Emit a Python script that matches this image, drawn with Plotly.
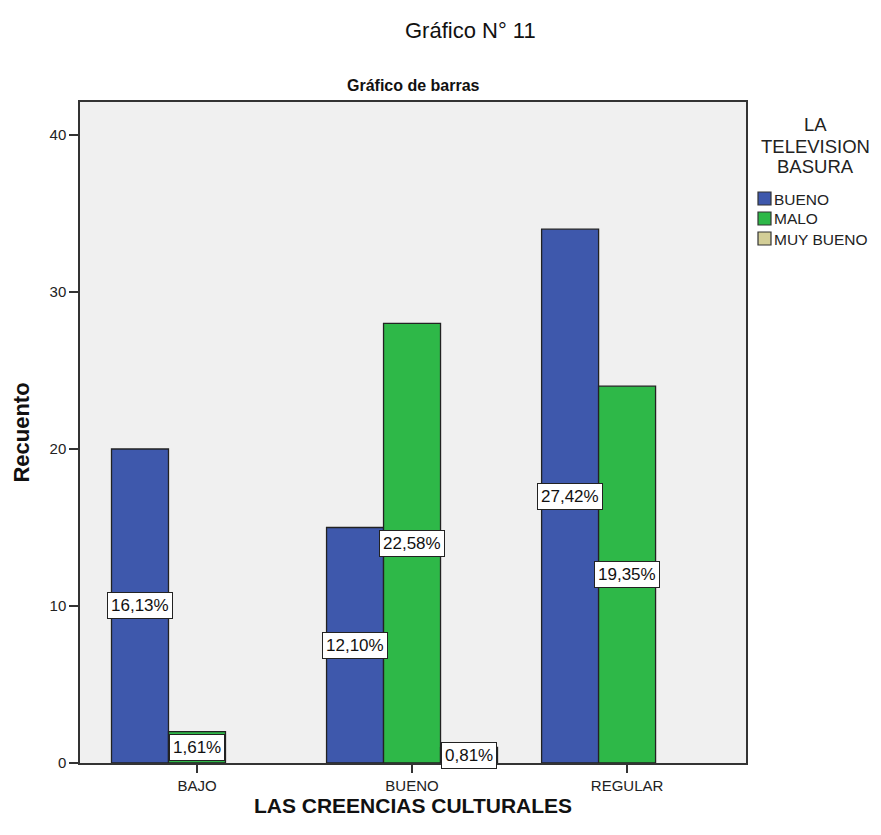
import plotly.graph_objects as go

categories = ["BAJO", "BUENO", "REGULAR"]
series_names = ["BUENO", "MALO", "MUY BUENO"]
bueno = [20, 15, 34]
malo = [2, 28, 24]
muy_bueno = [0, 1, 0]
total = 124
colors = ["#3E58AC", "#2EB848", "#D3CE97"]
legend_title_lines = ["LA", "TELEVISION", "BASURA"]

series = [bueno, malo, muy_bueno]
FONT = "Liberation Sans, Arial, sans-serif"

# the browser page adds an 8px body margin
OFF = 8
W, H = 881 - OFF, 835 - 2 * OFF
PL, PR, PT, PB = 80 - OFF, 746 - OFF, 102 - OFF, 763 - OFF


def px(xr):
    return (xr - OFF - PL) / (PR - PL)


def py(yr):
    return (PB - (yr - OFF)) / (PB - PT)


fig = go.Figure()
for name, vals, col in zip(series_names, series, colors):
    fig.add_trace(go.Bar(
        x=categories, y=vals, name=name, showlegend=False,
        marker=dict(color=col,
                    line=dict(color="#222222",
                              width=[1.3 if v > 0 else 0 for v in vals])),
    ))

bargap = 0.205
w = (1 - bargap) / 3
for i, vals in enumerate(series):
    for j, v in enumerate(vals):
        if v <= 0:
            continue
        pct = f"{100 * v / total:.2f}%".replace(".", ",")
        fig.add_annotation(
            x=j + (i - 1) * w, y=v / 2, xref="x", yref="y",
            text=pct, showarrow=False,
            font=dict(family=FONT, size=17, color="#111111"),
            bgcolor="white", bordercolor="#222222", borderwidth=1, borderpad=3,
        )

# titles
fig.add_annotation(text="Gráfico N° 11", x=px(470), y=py(30), xref="paper", yref="paper",
                   xanchor="center", yanchor="middle", showarrow=False,
                   font=dict(family=FONT, size=22, color="#111111"))
fig.add_annotation(text="<b>Gráfico de barras</b>", x=px(413), y=py(86), xref="paper",
                   yref="paper", xanchor="center", yanchor="middle", showarrow=False,
                   font=dict(family=FONT, size=16, color="#111111"))

# legend (drawn by hand to match the SPSS layout)
for k, (line, yy) in enumerate(zip(legend_title_lines, [124, 146, 167])):
    fig.add_annotation(text=line, x=px(815), y=py(yy), xref="paper", yref="paper",
                       xanchor="center", yanchor="middle", showarrow=False,
                       font=dict(family=FONT, size=18.5, color="#222222"))
for k, (name, col) in enumerate(zip(series_names, colors)):
    yc = 199 + 20 * k
    fig.add_shape(type="rect", xref="paper", yref="paper",
                  x0=px(758), x1=px(771), y0=py(yc - 7), y1=py(yc + 6),
                  fillcolor=col, line=dict(color="#333333", width=1.2))
    fig.add_annotation(text=name, x=px(772), y=py(yc), xref="paper", yref="paper",
                       xanchor="left", yanchor="middle", showarrow=False,
                       font=dict(family=FONT, size=15.5, color="#222222"))

fig.update_layout(
    width=W, height=H,
    margin=dict(l=PL, r=W - PR, t=PT, b=H - PB),
    paper_bgcolor="white", plot_bgcolor="#F0F0F0",
    barmode="group", bargap=bargap, bargroupgap=0,
    font=dict(family=FONT, size=14, color="#222222"),
    xaxis=dict(
        type="category", range=[-0.544, 2.553],
        showline=True, linecolor="#333333", linewidth=1.5, mirror=True,
        ticks="outside", ticklen=8, tickcolor="#333333", tickwidth=1.5,
        tickfont=dict(family=FONT, size=15, color="#222222"),
        title=dict(text="<b>LAS CREENCIAS CULTURALES</b>", standoff=3,
                   font=dict(family=FONT, size=21, color="#111111")),
        showgrid=False, zeroline=False,
    ),
    yaxis=dict(
        range=[0, 42.1], tickvals=[0, 10, 20, 30, 40],
        showline=True, linecolor="#333333", linewidth=1.5, mirror=True,
        ticks="outside", ticklen=9, tickcolor="#333333", tickwidth=1.5,
        tickfont=dict(family=FONT, size=15, color="#222222"),
        title=dict(text="<b>Recuento</b>", standoff=14,
                   font=dict(family=FONT, size=22, color="#111111")),
        showgrid=False, zeroline=False,
    ),
    showlegend=False,
)

fig.write_html("out.html")
